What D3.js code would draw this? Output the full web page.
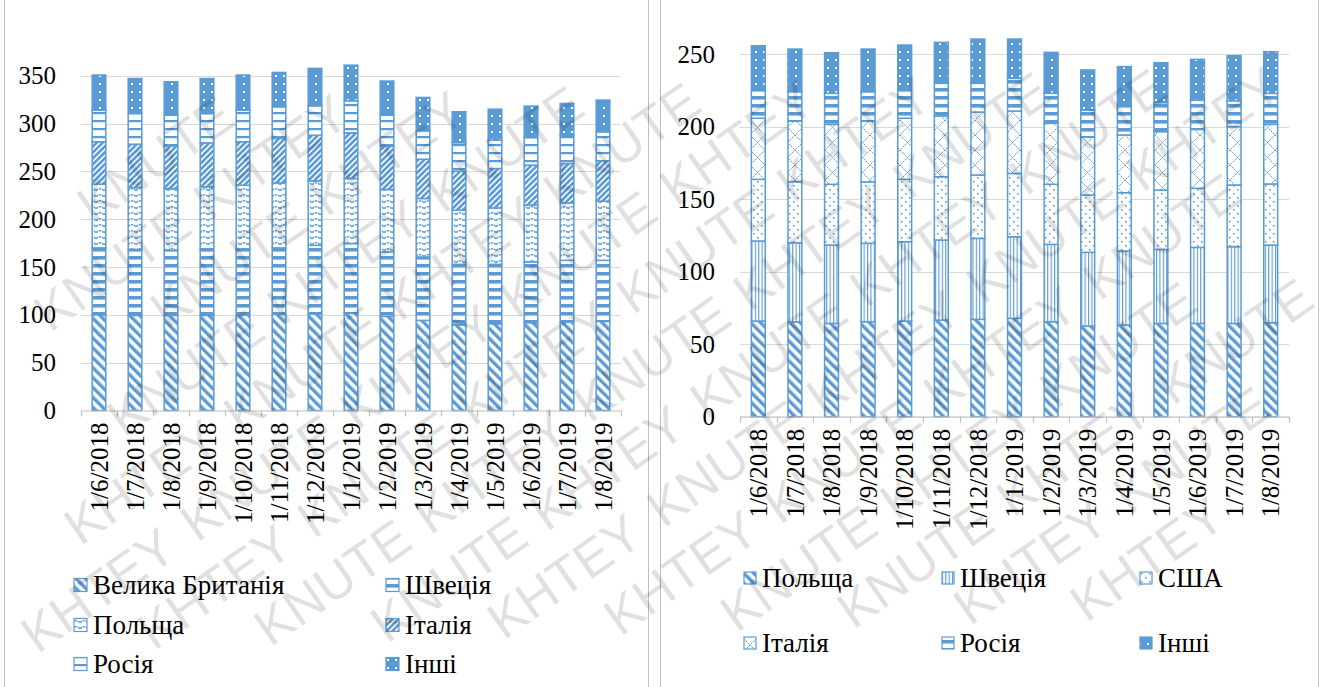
<!DOCTYPE html>
<html>
<head>
<meta charset="utf-8">
<script src="https://cdn.jsdelivr.net/npm/d3@7"></script>
<style>
  body { margin: 0; background: #fff; }
  svg { display: block; }
  text.serif { font-family: "Liberation Serif", "Times New Roman", serif; fill: #000; }
</style>
</head>
<body>
<svg id="chart" width="1325" height="687"></svg>
<script>
// Months shown on both charts
const months = ["1/6/2018", "1/7/2018", "1/8/2018", "1/9/2018", "1/10/2018", "1/11/2018", "1/12/2018",
                "1/1/2019", "1/2/2019", "1/3/2019", "1/4/2019", "1/5/2019", "1/6/2019", "1/7/2019", "1/8/2019"];

// Left chart series
const leftNames = ["Велика Британія", "Швеція", "Польща", "Італія", "Росія", "Інші"];
const leftUK     = [100.1, 99.4, 99.4, 99.4, 100.0, 100.5, 101.0, 101.9, 98.4, 94.2, 89.7, 90.7, 91.8, 92.5, 93.2];
const leftSweden = [69.9, 69.1, 68.1, 69.6, 69.0, 69.5, 71.7, 72.6, 67.3, 66.3, 63.1, 62.1, 63.5, 64.5, 63.8];
const leftPoland = [66.6, 64.5, 64.5, 64.8, 66.5, 68.0, 67.3, 68.0, 65.3, 61.1, 56.5, 59.0, 59.3, 60.0, 61.8];
const leftItaly  = [44.4, 45.4, 44.7, 46.0, 45.5, 46.4, 47.8, 47.8, 45.3, 41.1, 40.9, 41.2, 41.9, 41.2, 42.2];
const leftRussia = [33.0, 32.1, 32.1, 30.7, 33.0, 33.1, 30.8, 33.5, 32.5, 29.7, 29.8, 29.6, 28.9, 29.6, 30.3];
const leftOther  = [36.7, 36.5, 34.9, 36.5, 36.7, 35.9, 39.0, 37.2, 35.6, 34.9, 32.3, 32.4, 32.8, 33.2, 33.2];
const leftTicks  = [0, 50, 100, 150, 200, 250, 300, 350];

// Right chart series
const rightNames = ["Польща", "Швеція", "США", "Італія", "Росія", "Інші"];
const rightPoland = [65.9, 65.3, 64.3, 65.5, 65.9, 66.6, 67.1, 67.8, 65.5, 62.5, 63.2, 64.3, 64.3, 64.3, 64.8];
const rightSweden = [55.2, 54.6, 54.0, 54.0, 54.7, 55.2, 55.8, 56.2, 53.3, 50.8, 51.0, 51.0, 52.4, 52.9, 53.5];
const rightUSA    = [42.5, 42.1, 41.9, 42.3, 43.0, 43.6, 43.7, 43.7, 41.4, 39.5, 40.2, 40.9, 40.7, 42.5, 42.1];
const rightItaly  = [42.1, 41.8, 41.3, 42.0, 42.1, 41.9, 43.4, 43.0, 42.0, 39.8, 39.8, 40.3, 40.6, 40.2, 41.1];
const rightRussia = [21.1, 20.2, 21.4, 20.2, 20.6, 22.5, 19.8, 22.5, 20.7, 18.8, 21.3, 20.0, 20.3, 17.9, 21.4];
const rightOther  = [28.9, 29.4, 28.0, 29.4, 29.9, 28.2, 30.5, 27.1, 28.2, 27.6, 25.8, 27.5, 28.0, 31.1, 28.7];
const rightTicks  = [0, 50, 100, 150, 200, 250];

// Watermark words
const markWords = ["KNUTE", "KHTEY"];

const BLUE = "#5b9bd5";
const SERIF = "'Liberation Serif', 'Times New Roman', serif";
const svg = d3.select("#chart");
const defs = svg.append("defs");

// ---- fill patterns ----
function pattern(id, w, h, bg, draw, transform) {
  const p = defs.append("pattern").attr("id", id)
    .attr("patternUnits", "userSpaceOnUse").attr("width", w).attr("height", h);
  if (transform) p.attr("patternTransform", transform);
  p.append("rect").attr("width", w).attr("height", h).attr("fill", bg);
  draw(p);
}
pattern("diagWide", 7, 7, "#fff", p => p.append("rect").attr("width", 3.4).attr("height", 7).attr("fill", BLUE), "rotate(-45)");
pattern("diagDense", 4.2, 4.2, "#fff", p => p.append("rect").attr("width", 2.6).attr("height", 4.2).attr("fill", BLUE), "rotate(45)");
pattern("hThick", 8, 8, "#fff", p => p.append("rect").attr("width", 8).attr("height", 3.6).attr("fill", BLUE));
pattern("hThin", 8, 8, "#fff", p => p.append("rect").attr("width", 8).attr("height", 2.2).attr("fill", BLUE));
pattern("wave", 8, 6, "#fff", p => p.append("path").attr("d", "M0,4.8 Q4,0.6 8,4.8")
  .attr("fill", "none").attr("stroke", BLUE).attr("stroke-width", 1.5).attr("stroke-dasharray", "2.5 0.8"));
pattern("dotsOnBlue", 8, 8, BLUE, p => p.append("rect").attr("x", 3).attr("y", 3).attr("width", 2).attr("height", 2).attr("fill", "#fff"));
pattern("vLines", 3.4, 4, "#fff", p => p.append("rect").attr("width", 1.1).attr("height", 4).attr("fill", BLUE));
pattern("sparseDots", 8, 8, "#fff", p => {
  p.append("rect").attr("x", 1).attr("y", 1).attr("width", 1.6).attr("height", 1.6).attr("fill", BLUE);
  p.append("rect").attr("x", 5).attr("y", 5).attr("width", 1.6).attr("height", 1.6).attr("fill", BLUE);
});
pattern("lattice", 15, 15, "#fff", p => p.append("path").attr("d", "M0,0 L15,15 M15,0 L0,15")
  .attr("fill", "none").attr("stroke", BLUE).attr("stroke-width", 1).attr("stroke-dasharray", "2 1"));

// ---- panel frames ----
svg.append("rect").attr("x", 4.5).attr("y", -5).attr("width", 644).attr("height", 700)
  .attr("fill", "none").attr("stroke", "#bfbfbf");
svg.append("rect").attr("x", 660.5).attr("y", -5).attr("width", 658).attr("height", 700)
  .attr("fill", "none").attr("stroke", "#bfbfbf");

// ---- one stacked chart ----
function drawChart(cfg) {
  const g = svg.append("g");
  const x = d3.scaleBand().domain(months).range(cfg.xRange).paddingInner(0.58).paddingOuter(0.29);
  const y = d3.scaleLinear().domain([0, cfg.yTop]).range([cfg.y0, cfg.yTopPx]);

  // gridlines
  g.append("g").selectAll("line").data(cfg.ticks.filter(t => t > 0)).join("line")
    .attr("x1", cfg.xRange[0]).attr("x2", cfg.xRange[1])
    .attr("y1", d => Math.round(y(d)) + 0.5).attr("y2", d => Math.round(y(d)) + 0.5)
    .attr("stroke", "#d9d9d9").attr("stroke-width", 1.2);

  // y tick labels
  const yAxis = d3.axisLeft(y).tickValues(cfg.ticks).tickSize(0).tickPadding(0).tickFormat(d3.format("d"));
  const ya = g.append("g").attr("transform", `translate(${cfg.xRange[0] - 25},0)`).call(yAxis);
  ya.select(".domain").remove();
  ya.selectAll("text").attr("class", "serif").style("font-family", SERIF)
    .attr("font-size", 25).attr("fill", "#000");

  // stacked bars
  const rows = months.map((m, i) => {
    const r = { month: m };
    cfg.keys.forEach((k, j) => r[k] = cfg.values[j][i]);
    return r;
  });
  const stack = d3.stack().keys(cfg.keys)(rows);
  stack.forEach((layer, j) => {
    g.append("g").selectAll("rect").data(layer).join("rect")
      .attr("x", d => x(d.data.month) + 0.75)
      .attr("width", x.bandwidth() - 1.5)
      .attr("y", d => y(d[1]))
      .attr("height", d => y(d[0]) - y(d[1]))
      .attr("fill", `url(#${cfg.fills[j]})`)
      .attr("stroke", BLUE).attr("stroke-width", 1.5);
  });

  // x axis with category separators
  const xAxis = d3.axisBottom(x).tickSize(0).tickPadding(0);
  const xa = g.append("g").attr("transform", `translate(0,${cfg.y0})`).call(xAxis);
  xa.select(".domain").attr("stroke", "#bfbfbf").attr("stroke-width", 1.2)
    .attr("d", `M${cfg.xRange[0]},0.5H${cfg.xRange[1]}`);
  xa.selectAll(".tick text").attr("class", "serif").style("font-family", SERIF)
    .attr("font-size", 25).attr("fill", "#000")
    .attr("text-anchor", "end")
    .attr("transform", `translate(0,${cfg.labelGap}) rotate(-90)`)
    .attr("x", 0).attr("y", 0).attr("dy", "0.35em");
  const step = x.step();
  xa.append("g").selectAll("line").data(d3.range(months.length + 1)).join("line")
    .attr("x1", i => Math.round(cfg.xRange[0] + i * step) + 0.5)
    .attr("x2", i => Math.round(cfg.xRange[0] + i * step) + 0.5)
    .attr("y1", 0).attr("y2", 6).attr("stroke", "#bfbfbf").attr("stroke-width", 1.2);

  // legend
  const lg = g.append("g");
  cfg.keys.forEach((k, j) => {
    const [lx, ly] = cfg.legendPos[j];
    const s = cfg.swatch;
    lg.append("rect").attr("x", lx - s - 6).attr("y", ly - s / 2).attr("width", s).attr("height", s)
      .attr("fill", `url(#${cfg.fills[j]})`).attr("stroke", BLUE).attr("stroke-width", 1.2);
    lg.append("text").attr("class", "serif").style("font-family", SERIF)
      .attr("x", lx).attr("y", ly).attr("dy", "0.35em")
      .attr("font-size", 27).text(k);
  });
}

drawChart({
  xRange: [81, 621], y0: 410.5, yTop: 350, yTopPx: 75.7, ticks: leftTicks, labelGap: 12,
  keys: leftNames,
  values: [leftUK, leftSweden, leftPoland, leftItaly, leftRussia, leftOther],
  fills: ["diagWide", "hThick", "wave", "diagDense", "hThin", "dotsOnBlue"],
  swatch: 13,
  legendPos: [[93, 585], [405, 585], [93, 625], [405, 625], [93, 664], [405, 664]]
});

drawChart({
  xRange: [740, 1289], y0: 416.7, yTop: 250, yTopPx: 54, ticks: rightTicks, labelGap: 12,
  keys: rightNames,
  values: [rightPoland, rightSweden, rightUSA, rightItaly, rightRussia, rightOther],
  fills: ["diagWide", "vLines", "sparseDots", "lattice", "hThick", "dotsOnBlue"],
  swatch: 12,
  legendPos: [[762, 578], [960, 578], [1158, 578], [762, 643], [960, 643], [1158, 643]]
});

// ---- faint diagonal watermark: rows of words, each kept wholly on the sheet ----
const wm = svg.append("g").attr("pointer-events", "none");
const deg = 35, rad = deg * Math.PI / 180;
const dirX = Math.cos(rad), dirY = -Math.sin(rad);   // reading direction (up-right)
const upX = -Math.sin(rad), upY = -Math.cos(rad);    // towards the tops of the letters
const fontPx = 52, ascent = 38, descent = 3;
const rowStep = 64, wordStep = 195;
for (let k = -40; k <= 40; k++) {
  for (let j = -40; j <= 40; j++) {
    // baseline origin: rows stacked along the "down" normal, words along the reading direction
    const shift = (k % 2 !== 0) ? wordStep / 2 : 0;
    const ox = 20 + (j * wordStep + shift) * dirX - k * rowStep * upX;
    const oy = 120 + (j * wordStep + shift) * dirY - k * rowStep * upY;
    if (ox < -300 || ox > 1400 || oy < -100 || oy > 900) continue;
    const t = wm.append("text")
      .attr("transform", `translate(${ox.toFixed(1)},${oy.toFixed(1)}) rotate(${-deg})`)
      .style("font-family", "'Liberation Sans', Arial, sans-serif")
      .attr("font-size", fontPx)
      .attr("fill", "#000").attr("fill-opacity", 0.12)
      .text(markWords[((j + k) % 2 + 2) % 2]);
    const len = t.node().getComputedTextLength();
    const ok = [[0, -descent], [len, -descent], [0, ascent], [len, ascent]].every(([a, h]) => {
      const px = ox + a * dirX + h * upX, py = oy + a * dirY + h * upY;
      return px > 3 && px < 1322 && py > 3 && py < 684;
    });
    if (!ok) t.remove();
  }
}
</script>
</body>
</html>
